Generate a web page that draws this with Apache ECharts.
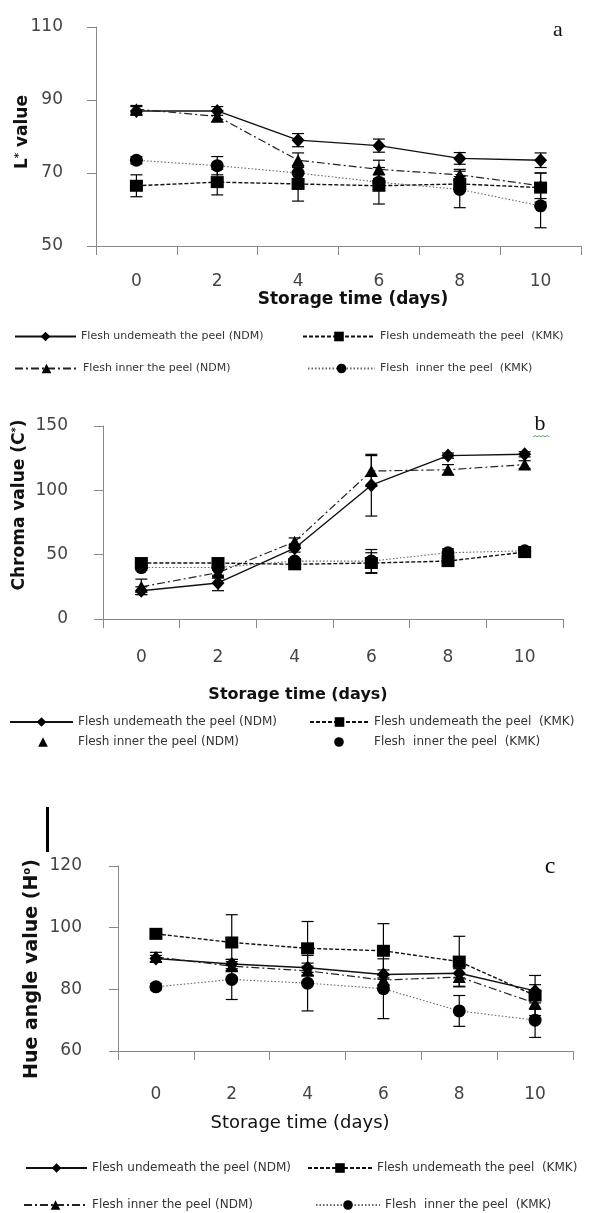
<!DOCTYPE html>
<html><head><meta charset="utf-8">
<script src="https://cdn.jsdelivr.net/npm/echarts@6.0.0/dist/echarts.min.js"></script>
<style>html,body{margin:0;padding:0;background:#fff}#chart{width:595px;height:1213px}</style>
</head><body><div id="chart"></div>
<script>
// ---------- data ----------
const days = ['0', '2', '4', '6', '8', '10'];
const seriesNames = ['Flesh undemeath the peel (NDM)', 'Flesh undemeath the peel  (KMK)', 'Flesh inner the peel (NDM)', 'Flesh  inner the peel  (KMK)'];

// Panel a: L* value
const lUnderNDM = [87, 87, 79, 77.5, 74, 73.5];
const lUnderNDMErr = [1.2, 1.2, 1.8, 1.8, 1.6, 2];
const lUnderKMK = [66.5, 67.5, 67, 66.5, 67, 66];
const lUnderKMKErr = [3, 3.5, 4.7, 5, 2, 4];
const lInnerNDM = [87.5, 85.5, 73.5, 71, 69.5, 66.5];
const lInnerNDMErr = [1, 1.5, 2, 2.5, 1.5, 3.5];
const lInnerKMK = [73.5, 72, 70, 67.5, 65.5, 61];
const lInnerKMKErr = [1, 2.5, 2, 2, 5, 6];

// Panel b: Chroma value
const cUnderNDM = [22, 28, 55, 104, 127, 128];
const cUnderNDMErr = [3, 6, 3, 24, 2, 2];
const cUnderKMK = [43.5, 43.5, 42.5, 43.5, 45, 52];
const cUnderKMKErr = [2, 2, 2, 8, 2, 1.5];
const cInnerNDM = [25, 36, 60, 115, 116, 120];
const cInnerNDMErr = [6, 3, 3, 12, 4, 3];
const cInnerKMK = [40, 40, 45, 45, 51.5, 53];
const cInnerKMKErr = [2, 2, 2, 9, 3, 1.5];

// Panel c: Hue angle value
const hUnderNDM = [90, 88.2, 87, 84.8, 85.2, 79.5];
const hUnderNDMErr = [1, 1.5, 1.5, 1.5, 1.5, 2];
const hUnderKMK = [98, 95.2, 93.3, 92.5, 89, 78];
const hUnderKMKErr = [1.5, 9, 8.7, 8.8, 8.2, 6.5];
const hInnerNDM = [90.5, 87.5, 86, 83, 84, 75.5];
const hInnerNDMErr = [1.5, 1.5, 1.5, 1.5, 3, 2];
const hInnerKMK = [80.8, 83.2, 82, 80.2, 73, 70];
const hInnerKMKErr = [1, 6.5, 9, 9.7, 5, 5.6];

const yTicksA = {min: 50, max: 110, interval: 20};
const yTicksB = {min: 0, max: 150, interval: 50};
const yTicksC = {min: 60, max: 120, interval: 20};

// ---------- styles ----------
const FONT = '"DejaVu Sans", sans-serif';
const styles = [
  {symbol: 'diamond', symbolSize: [13, 14], line: {color: '#111', width: 1.4, type: 'solid'}},
  {symbol: 'rect', symbolSize: [13, 12], line: {color: '#111', width: 1.4, type: [4, 2]}},
  {symbol: 'triangle', symbolSize: [13, 12], line: {color: '#222', width: 1.2, type: [8, 3, 2, 3]}},
  {symbol: 'circle', symbolSize: [13, 13], line: {color: '#666', width: 1.1, type: [1.5, 2]}}
];

const panels = [
  {vals: [lUnderNDM, lUnderKMK, lInnerNDM, lInnerKMK], errs: [lUnderNDMErr, lUnderKMKErr, lInnerNDMErr, lInnerKMKErr],
   grid: {left: 96, top: 27, width: 485, height: 219}, y: yTicksA, xMargin: 27, yMargin: 33},
  {vals: [cUnderNDM, cUnderKMK, cInnerNDM, cInnerKMK], errs: [cUnderNDMErr, cUnderKMKErr, cInnerNDMErr, cInnerKMKErr],
   grid: {left: 103, top: 426, width: 460, height: 193}, y: yTicksB, xMargin: 30, yMargin: 35},
  {vals: [hUnderNDM, hUnderKMK, hInnerNDM, hInnerKMK], errs: [hUnderNDMErr, hUnderKMKErr, hInnerNDMErr, hInnerKMKErr],
   grid: {left: 118, top: 866, width: 455, height: 185}, y: yTicksC, xMargin: 35, yMargin: 36}
];

function renderErr(params, api) {
  const x = api.value(0), lo = api.value(1), hi = api.value(2);
  const p1 = api.coord([x, lo]);
  const p2 = api.coord([x, hi]);
  const w = 6;
  const st = {stroke: '#000', lineWidth: 1.2};
  return {type: 'group', children: [
    {type: 'line', shape: {x1: p1[0], y1: p1[1], x2: p2[0], y2: p2[1]}, style: st},
    {type: 'line', shape: {x1: p1[0] - w, y1: p1[1], x2: p1[0] + w, y2: p1[1]}, style: st},
    {type: 'line', shape: {x1: p2[0] - w, y1: p2[1], x2: p2[0] + w, y2: p2[1]}, style: st}
  ]};
}

const grids = [], xAxes = [], yAxes = [], series = [];
panels.forEach((p, gi) => {
  grids.push(Object.assign({containLabel: false, outerBoundsMode: 'none'}, p.grid));
  xAxes.push({
    type: 'category', gridIndex: gi, data: days, boundaryGap: true,
    axisLine: {show: true, lineStyle: {color: '#888', width: 1}},
    axisTick: {show: true, length: 9, alignWithLabel: false, lineStyle: {color: '#888'}},
    axisLabel: {margin: p.xMargin, fontSize: 17, fontFamily: FONT, color: '#444'},
    splitLine: {show: false}
  });
  yAxes.push({
    type: 'value', gridIndex: gi, min: p.y.min, max: p.y.max, interval: p.y.interval,
    axisLine: {show: true, lineStyle: {color: '#888', width: 1}},
    axisTick: {show: true, length: 9, lineStyle: {color: '#888'}},
    axisLabel: {margin: p.yMargin, fontSize: 17, fontFamily: FONT, color: '#444'},
    splitLine: {show: false}
  });
  const errData = [];
  p.vals.forEach((v, si) => {
    const s = styles[si];
    series.push({
      type: 'line', name: seriesNames[si], xAxisIndex: gi, yAxisIndex: gi, data: v,
      symbol: s.symbol, symbolSize: s.symbolSize, showAllSymbol: true,
      itemStyle: {color: '#000'}, lineStyle: s.line, z: 2, animation: false
    });
    v.forEach((m, i) => errData.push([i, m - p.errs[si][i], m + p.errs[si][i]]));
  });
  series.push({
    type: 'custom', xAxisIndex: gi, yAxisIndex: gi, data: errData,
    encode: {x: 0, y: [1, 2]}, renderItem: renderErr, z: 3, animation: false, silent: true
  });
});

function lg(si, left, rowY, w, fs, noLine) {
  const ih = 12;
  const o = {
    data: [seriesNames[si]],
    left: left, top: rowY - ih / 2, itemWidth: w, itemHeight: ih, padding: 0,
    selectedMode: false, orient: 'horizontal',
    textStyle: {fontSize: fs, fontFamily: FONT, color: '#333'}
  };
  if (noLine) o.lineStyle = {opacity: 0};
  return o;
}
const legends = [
  lg(0, 14, 337, 61, 11), lg(1, 302, 337, 72, 11), lg(2, 14, 369, 63, 11), lg(3, 307, 369, 67, 11),
  lg(0, 9, 722, 63, 12), lg(1, 309, 722, 59, 12), lg(2, 12, 742, 60, 12, true), lg(3, 308, 742, 60, 12, true),
  lg(0, 25, 1168, 61, 12), lg(1, 307, 1168, 64, 12), lg(2, 23, 1205, 63, 12), lg(3, 315, 1205, 64, 12)
];

function txt(x, y, text, font, extra) {
  return Object.assign({type: 'text', x: x, y: y, silent: true,
    style: {text: text, font: font, fill: '#111', align: 'center', verticalAlign: 'middle'}}, extra || {});
}
function ytitle(x, y, parts) {
  return {type: 'text', x: x, y: y, rotation: Math.PI / 2, silent: true,
    style: {text: parts, align: 'center', verticalAlign: 'middle', fill: '#111',
      rich: {
        m: {fontSize: 17, fontWeight: 'bold', fontFamily: FONT, fill: '#111'},
        M: {fontSize: 19, fontWeight: 'bold', fontFamily: FONT, fill: '#111'},
        s: {fontSize: 10, fontWeight: 'bold', fontFamily: FONT, fill: '#111', verticalAlign: 'top'}
      }}};
}
const wave = [];
for (let i = 0; i <= 8; i++) wave.push([533 + i * 2, 437 + (i % 2 ? -1.5 : 0)]);

const graphics = [
  txt(353, 300, 'Storage time (days)', 'bold 17px ' + FONT),
  txt(298, 695, 'Storage time (days)', 'bold 16px ' + FONT),
  txt(300, 1123, 'Storage time (days)', 'normal 18px ' + FONT),
  ytitle(23, 132, '{m|L}{s|*}{m| value}'),
  ytitle(20, 505, '{m|Chroma value (C}{s|*}{m|)}'),
  ytitle(32, 969, '{M|Hue angle value (H}{s|o}{M|)}'),
  txt(558, 30, 'a', 'normal 22px "Liberation Serif", serif'),
  txt(540, 424, 'b', 'normal 22px "Liberation Serif", serif'),
  txt(550, 867, 'c', 'normal 24px "Liberation Serif", serif'),
  {type: 'polyline', silent: true, shape: {points: wave}, style: {stroke: '#5a5', lineWidth: 1, fill: null}},
  {type: 'rect', silent: true, shape: {x: 46, y: 807, width: 3, height: 45}, style: {fill: '#000'}}
];

const chart = echarts.init(document.getElementById('chart'), null, {renderer: 'canvas'});
chart.setOption({
  animation: false,
  backgroundColor: '#fff',
  grid: grids, xAxis: xAxes, yAxis: yAxes, series: series,
  legend: legends, graphic: {elements: graphics}
});
</script></body></html>
